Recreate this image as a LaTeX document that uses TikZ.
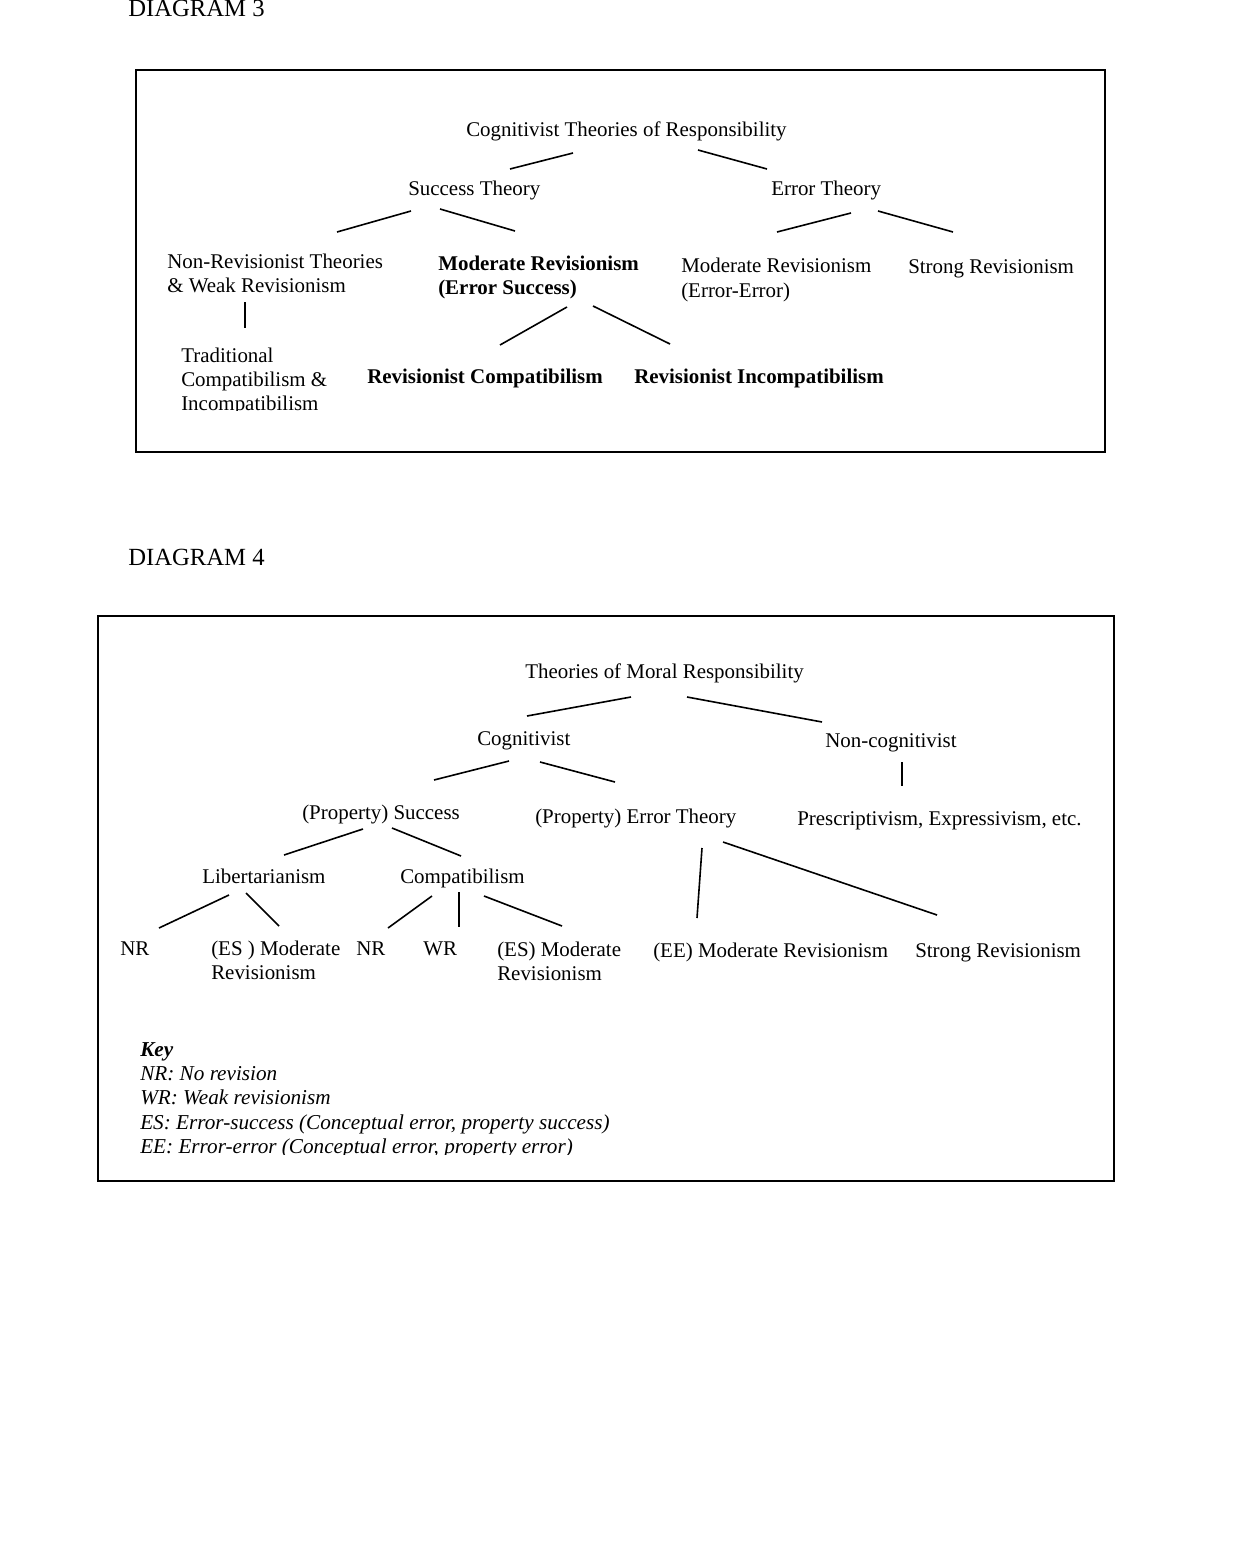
\documentclass[tikz,border=0pt]{standalone}
\usepackage{fontspec}
\setmainfont{Liberation Serif}
\begin{document}
\begin{tikzpicture}[x=0.75pt,y=-0.75pt,
  lbl/.style={anchor=base west,inner sep=0pt,font=\fontsize{15.7}{18}\selectfont},
  blbl/.style={lbl,font=\fontsize{15.7}{18}\selectfont\bfseries},
  ilbl/.style={lbl,font=\fontsize{15.9}{18}\selectfont\itshape},
  bilbl/.style={lbl,font=\fontsize{15.9}{18}\selectfont\bfseries\itshape},
  ttl/.style={anchor=base west,inner sep=0pt,font=\fontsize{18.5}{22}\selectfont},
  frame/.style={draw,line width=1.3pt},
  conn/.style={draw,line width=1.2pt}]
\useasboundingbox (0,0) rectangle (1236,1545);

% ---------------- DIAGRAM 3 ----------------
\node[ttl] (t3) at (128,17) {DIAGRAM 3};
\draw[frame] (136,70) rectangle (1105,452);

\node[lbl] (cog) at (466,137) {Cognitivist Theories of Responsibility};
\node[lbl] (succ) at (408,195) {Success Theory};
\node[lbl] (err) at (771,195) {Error Theory};
\node[lbl] (nonrevA) at (167,268) {Non-Revisionist Theories};
\node[lbl] (nonrevB) at (167,292) {\& Weak Revisionism};
\node[blbl] (modrevA) at (438,270) {Moderate Revisionism};
\node[blbl] (modrevB) at (438,294) {(Error Success)};
\node[lbl] (modeeA) at (681,272) {Moderate Revisionism};
\node[lbl] (modeeB) at (681,297) {(Error-Error)};
\node[lbl] (strongA) at (908,273) {Strong Revisionism};
\node[lbl] (tradA) at (181,362) {Traditional};
\node[lbl] (tradB) at (181,386) {Compatibilism \&};
\begin{scope}
  \clip (140,390) rectangle (600,410);
  \node[lbl] (tradC) at (181,410) {Incompatibilism};
\end{scope}
\node[blbl] (rcomp) at (367,383) {Revisionist Compatibilism};
\node[blbl] (rincomp) at (634,383) {Revisionist Incompatibilism};

\coordinate (c1a) at (510,169); \coordinate (c1b) at (573,153);
\coordinate (c2a) at (698,150); \coordinate (c2b) at (767,169);
\coordinate (c3a) at (337,232); \coordinate (c3b) at (411,211);
\coordinate (c4a) at (440,209); \coordinate (c4b) at (515,231);
\coordinate (c5a) at (777,232); \coordinate (c5b) at (851,213);
\coordinate (c6a) at (878,211); \coordinate (c6b) at (953,232);
\coordinate (c7a) at (245,302); \coordinate (c7b) at (245,328);
\coordinate (c8a) at (567,307); \coordinate (c8b) at (500,345);
\coordinate (c9a) at (593,306); \coordinate (c9b) at (670,344);
\foreach \p in {1,...,9} \draw[conn] (c\p a) -- (c\p b);

% ---------------- DIAGRAM 4 ----------------
\node[ttl] (t4) at (128,565) {DIAGRAM 4};
\draw[frame] (98,616) rectangle (1114,1181);

\node[lbl] (tmr) at (525,678) {Theories of Moral Responsibility};
\node[lbl] (cogv) at (477,745) {Cognitivist};
\node[lbl] (noncog) at (825,747) {Non-cognitivist};
\node[lbl] (psucc) at (302,819) {(Property) Success};
\node[lbl] (perr) at (535,823) {(Property) Error Theory};
\node[lbl] (presc) at (797,825) {Prescriptivism, Expressivism, etc.};
\node[lbl] (lib) at (202,883) {Libertarianism};
\node[lbl] (comp) at (400,883) {Compatibilism};
\node[lbl] (nrA) at (120,955) {NR};
\node[lbl] (esA1) at (211,955) {(ES ) Moderate};
\node[lbl] (esA2) at (211,979) {Revisionism};
\node[lbl] (nrB) at (356,955) {NR};
\node[lbl] (wr) at (423,955) {WR};
\node[lbl] (esB1) at (497,956) {(ES) Moderate};
\node[lbl] (esB2) at (497,980) {Revisionism};
\node[lbl] (ee) at (653,957) {(EE) Moderate Revisionism};
\node[lbl] (strongB) at (915,957) {Strong Revisionism};

\coordinate (d1a) at (527,716); \coordinate (d1b) at (631,697);
\coordinate (d2a) at (687,697); \coordinate (d2b) at (822,722);
\coordinate (d3a) at (434,780); \coordinate (d3b) at (509,761);
\coordinate (d4a) at (540,762); \coordinate (d4b) at (615,782);
\coordinate (d5a) at (902,762); \coordinate (d5b) at (902,786);
\coordinate (d6a) at (284,855); \coordinate (d6b) at (363,829);
\coordinate (d7a) at (392,828); \coordinate (d7b) at (461,856);
\coordinate (d8a) at (702,848); \coordinate (d8b) at (697,918);
\coordinate (d9a) at (723,842); \coordinate (d9b) at (937,915);
\coordinate (d10a) at (159,928); \coordinate (d10b) at (229,895);
\coordinate (d11a) at (246,893); \coordinate (d11b) at (279,926);
\coordinate (d12a) at (388,928); \coordinate (d12b) at (432,896);
\coordinate (d13a) at (459,892); \coordinate (d13b) at (459,927);
\coordinate (d14a) at (484,896); \coordinate (d14b) at (562,926);
\foreach \p in {1,...,14} \draw[conn] (d\p a) -- (d\p b);

\node[bilbl] (key) at (140,1056) {Key};
\node[ilbl] (keyA) at (140,1080) {NR: No revision};
\node[ilbl] (keyB) at (140,1104) {WR:\ Weak revisionism};
\node[ilbl] (keyC) at (140,1129) {ES: Error-success (Conceptual error, property success)};
\begin{scope}
  \clip (100,1135) rectangle (700,1154);
  \node[ilbl] (keyD) at (140,1153) {EE: Error-error (Conceptual error, property error)};
\end{scope}
\end{tikzpicture}
\end{document}
